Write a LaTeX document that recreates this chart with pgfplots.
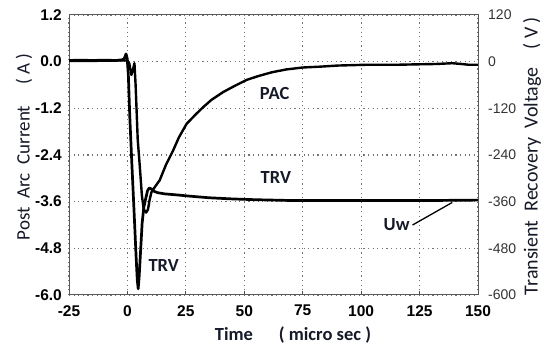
\documentclass[border=0pt]{standalone}
\usepackage{pgfplots}
\pgfplotsset{compat=1.18}
\usepackage{fontspec}
\setmainfont{Liberation Sans}
\newfontfamily\calibri{Carlito}
\definecolor{txt}{RGB}{22,26,40}
\begin{document}
\begin{tikzpicture}[x=1pt,y=1pt]
\path[use as bounding box] (0,0) rectangle (543,347);
\begin{axis}[
  at={(69pt,52pt)}, anchor=south west,
  width=409pt, height=280pt, scale only axis,
  xmin=-25, xmax=150, ymin=-6, ymax=1.2,
  xtick={-25,0,25,50,75,100,125,150},
  ytick={-6,-4.8,-3.6,-2.4,-1.2,0,1.2},
  /pgf/number format/assume math mode=true,
  yticklabel style={/pgf/number format/fixed,/pgf/number format/fixed zerofill,/pgf/number format/precision=1,
     font=\bfseries\fontsize{15.5}{15.5}\selectfont, inner sep=0pt, anchor=east, xshift=-7pt},
  xticklabel style={font=\bfseries\fontsize{15.5}{15.5}\selectfont, inner sep=0pt, anchor=north, yshift=-10pt},
  xtick pos=left, tick align=inside, major tick length=4pt,
  ytick style={draw=none},
  xtick style={black!70, line width=0.8pt},
  grid=major,
  major grid style={black!55, line width=1.2pt, dash pattern=on 1.2pt off 3.4pt},
  axis line style={black!65, line width=1pt},
]
\addplot[black, line width=2.7pt, line join=round] table {
x y
-25 0.03
-20 0.04
-15 0.03
-10 0.04
-5 0.03
-2 0.05
-1.2 0.10
-0.6 0.20
-0.1 0.08
0.4 -0.35
1.0 -1.4
1.8 -2.5
2.8 -3.8
3.7 -5.0
4.2 -5.6
4.6 -5.84
5.0 -5.55
5.6 -4.9
6.3 -4.15
7.0 -3.75
7.9 -3.5
8.6 -3.32
9.3 -3.25
10.2 -3.27
11.2 -3.33
13 -3.37
16 -3.40
20 -3.42
27 -3.46
35 -3.50
45 -3.53
55 -3.55
70 -3.57
90 -3.57
110 -3.57
130 -3.57
150 -3.56
};
\addplot[black, line width=2.4pt, line join=round] table {
x y
-25 0.02
-15 0.02
-5 0.03
0 0.03
0.8 -0.05
1.7 -0.34
2.4 -0.2
3.0 -0.04
3.5 -0.6
4.4 -2.0
5.3 -2.7
6.2 -3.45
7.0 -3.8
8.0 -3.88
8.8 -3.8
9.5 -3.55
10.3 -3.35
12 -3.2
13.8 -3.05
16.5 -2.65
19.5 -2.29
22 -1.95
25.3 -1.6
29 -1.37
32.4 -1.17
36 -0.98
41 -0.78
46 -0.62
51 -0.47
56 -0.37
62 -0.27
68 -0.2
75 -0.15
82 -0.13
90 -0.1
102 -0.08
115 -0.08
123 -0.07
132 -0.06
139 -0.04
143 -0.06
146 -0.08
150 -0.08
};
\node[font=\calibri\bfseries\fontsize{18.5}{18.5}\selectfont, text=txt] at (axis cs:63,-0.83) {PAC};
\node[font=\calibri\bfseries\fontsize{18.5}{18.5}\selectfont, text=txt] at (axis cs:63.5,-2.98) {TRV};
\node[font=\calibri\bfseries\fontsize{18.5}{18.5}\selectfont, text=txt] at (axis cs:15.5,-5.25) {TRV};
\node[font=\calibri\bfseries\fontsize{18.5}{18.5}\selectfont, text=txt] at (axis cs:115.2,-4.18) {Uw};
\draw[black, line width=1.3pt] (axis cs:122,-4.2) -- (axis cs:139,-3.62);
\end{axis}
\begin{axis}[
  at={(69pt,52pt)}, anchor=south west,
  width=409pt, height=280pt, scale only axis,
  xmin=-25, xmax=150, ymin=-600, ymax=120,
  axis x line=none, axis y line*=right,
  ytick={-600,-480,-360,-240,-120,0,120},
  /pgf/number format/assume math mode=true,
  yticklabel style={font=\fontsize{14}{14}\selectfont, text=black!80, inner sep=0pt, anchor=west, xshift=10pt},
  ytick style={draw=none},
  axis line style={black!65, line width=1pt},
]
\addplot[draw=none] coordinates {(0,0)};
\end{axis}
\node[rotate=90, inner sep=0pt, font=\calibri\fontsize{19}{19}\selectfont, text=txt] at (24,200) {Post\ \ Arc\ \ Current\hspace{1.1em}( A )};
\node[rotate=90, inner sep=0pt, font=\calibri\fontsize{20}{20}\selectfont, text=txt] at (532,191) {Transient\ \ Recovery\ \ Voltage\hspace{0.9em}( V )};
\node[inner sep=0pt, font=\calibri\bfseries\fontsize{18.5}{18.5}\selectfont, text=txt] at (293,12) {Time\hspace{1.4em}( micro sec )};
\end{tikzpicture}
\end{document}
